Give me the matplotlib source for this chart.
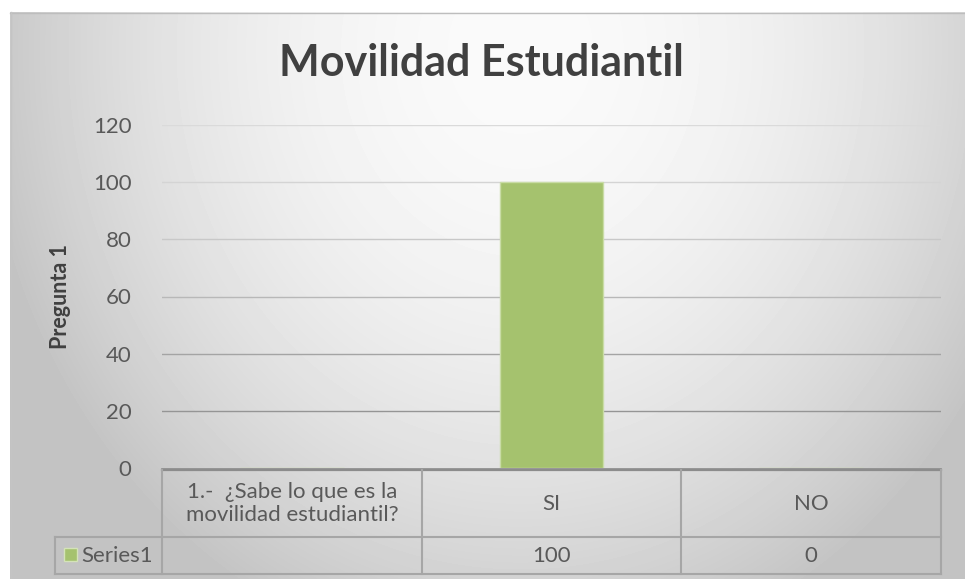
import numpy as np
import matplotlib.pyplot as plt
from matplotlib.transforms import blended_transform_factory
from matplotlib.patches import Rectangle

# datos
categorias = ['1.-  ¿Sabe lo que es la\nmovilidad estudiantil?', 'SI', 'NO']
valores = [None, 100, 0]
etiquetas_tabla = ['', '100', '0']
serie = 'Series1'
titulo = 'Movilidad Estudiantil'
eje_y = 'Pregunta 1'
yticks = [0, 20, 40, 60, 80, 100, 120]

W, H = 965, 579
fuente = 'Lato'
gris_texto = '#595959'
verde = '#a5c26e'

fig = plt.figure(figsize=(W / 100, H / 100), dpi=100)
fig.patch.set_facecolor('white')

# fondo con degradado radial
bg = fig.add_axes([0, 0, 1, 1], zorder=0)
xx, yy = np.meshgrid(np.arange(10, W), np.arange(12, H))
t = np.sqrt(((xx - 520) / 540.0) ** 2 + ((yy - 50) / 620.0) ** 2)
t = np.clip(t, 0, 1)
gris = (250 - 54 * t ** 2) / 255.0
bg.imshow(gris, cmap='gray', vmin=0, vmax=1, extent=(10, W, H, 12), aspect='auto')
bg.plot([10, W], [12.5, 12.5], color='#bdbdbd', lw=1)
bg.plot([10.5, 10.5], [12, H], color='#c4c4c4', lw=1)
bg.set_xlim(0, W)
bg.set_ylim(H, 0)
bg.axis('off')

# área de trazado
x0, x1, y0, y1 = 162, 941, 468, 125
ax = fig.add_axes([x0 / W, (H - y0) / H, (x1 - x0) / W, (y0 - y1) / H], zorder=1)
ax.patch.set_alpha(0)
for s in ax.spines.values():
    s.set_visible(False)

xs = np.arange(len(categorias))
alturas = [v if v is not None else 0 for v in valores]
ax.bar(xs, alturas, width=0.4, color=verde, edgecolor='#c9dca6', linewidth=1, zorder=3)
ax.set_xlim(-0.5, len(categorias) - 0.5)
ax.set_ylim(0, 120)
ax.set_yticks(yticks)
ax.set_xticks([])
colores_grid = ['#dadada', '#d4d4d4', '#c8c8c8', '#b8b8b8', '#a4a4a4', '#959595']
for y, c in zip(yticks[1:][::-1], colores_grid):
    ax.axhline(y, color=c, lw=1, zorder=1)
ax.tick_params(axis='y', length=0, pad=22, labelsize=16, labelcolor=gris_texto)
for lb in ax.get_yticklabels():
    lb.set_fontfamily(fuente)
ax.set_ylabel(eje_y, fontsize=15.5, fontweight='bold', color='#404040', family=fuente, labelpad=16)

fig.text(481 / W, 1 - 63 / H, titulo, ha='center', va='center', fontsize=31,
         fontweight='bold', color='#404040', family=fuente)

# tabla de datos
tr = blended_transform_factory(ax.transData, ax.transAxes)
px = 3.0 / (x1 - x0)
def ya(ypx):
    return (y0 - ypx) / (y0 - y1)

fila1, fila2, fila3 = ya(470), ya(537), ya(574)
xl = -0.5 - (x0 - 55) * px
lc = '#a6a6a6'
ax.plot([-0.5, 2.5], [ya(468.5), ya(468.5)], transform=tr, color='#8c8c8c', lw=1.2, clip_on=False)
ax.plot([-0.5, 2.5], [fila1, fila1], transform=tr, color='#8c8c8c', lw=1.6, clip_on=False)
for y in [fila2, fila3]:
    ax.plot([xl, 2.5], [y, y], transform=tr, color=lc, lw=1.5, clip_on=False)
for x in [-0.5, 0.5, 1.5, 2.5]:
    ax.plot([x, x], [fila1, fila3], transform=tr, color=lc, lw=1.5, clip_on=False)
ax.plot([xl, xl], [fila2, fila3], transform=tr, color=lc, lw=1.5, clip_on=False)

for x, cat, et in zip(xs, categorias, etiquetas_tabla):
    ax.text(x, (fila1 + fila2) / 2, cat, transform=tr, ha='center', va='center',
            fontsize=16, color=gris_texto, family=fuente, linespacing=1.15)
    ax.text(x, (fila2 + fila3) / 2, et, transform=tr, ha='center', va='center',
            fontsize=16, color=gris_texto, family=fuente)

# clave de la serie
kx = -0.5 - (x0 - 64) * px
ax.add_patch(Rectangle((kx, ya(561)), 13 * px, ya(548) - ya(561), transform=tr,
                       facecolor=verde, edgecolor='#d4e3b8', lw=1, clip_on=False))
ax.text(-0.5 - (x0 - 81) * px, (fila2 + fila3) / 2, serie, transform=tr, ha='left',
        va='center', fontsize=16, color=gris_texto, family=fuente)

fig.savefig('out.png', dpi=100)
